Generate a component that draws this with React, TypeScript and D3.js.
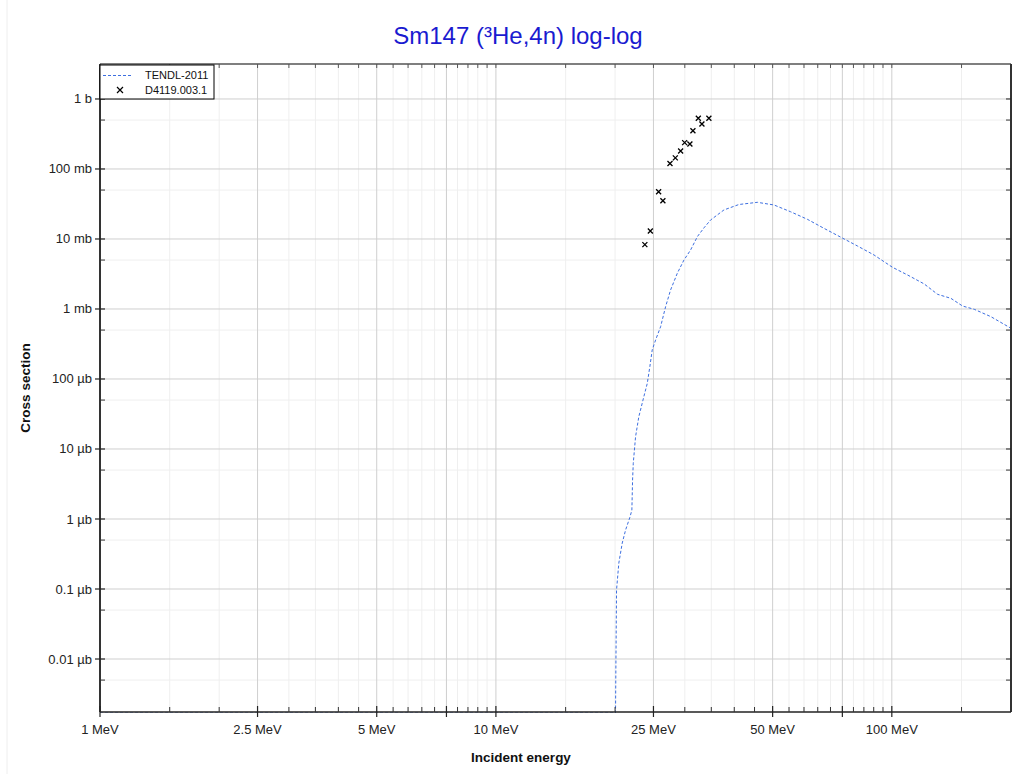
import React from "react";
import * as d3 from "d3";

// TENDL-2011 evaluated curve (energy in MeV, cross section in barns)
const tendlE = [1, 20, 20.05, 20.1, 20.17, 20.44, 20.85, 21.26, 21.8, 22.05, 22.14, 22.23, 22.53, 22.96, 23.64, 24.12, 24.48, 24.82, 25.31, 26.06, 26.83, 27.62, 28.72, 29.85, 31.03, 32.27, 33.53, 34.86, 37.67, 41.11, 45.75, 50.4, 55.5, 61.2, 67.4, 75.3, 81.9, 90.2, 100.4, 109.6, 120.7, 130.5, 141, 151, 161.5, 178, 200];
const tendlXS = [0, 0, 1e-9, 1e-8, 9.7e-8, 2.35e-7, 4.54e-7, 6.97e-7, 1.06e-6, 1.34e-6, 3.6e-6, 6.25e-6, 1.5e-5, 2.89e-5, 5.59e-5, 8.69e-5, 1.5e-4, 2.6e-4, 3.6e-4, 5.58e-4, 1.08e-3, 1.87e-3, 3.24e-3, 5.0e-3, 6.97e-3, 1.08e-2, 1.44e-2, 1.87e-2, 2.6e-2, 3.11e-2, 3.34e-2, 3.06e-2, 2.45e-2, 1.91e-2, 1.42e-2, 1.02e-2, 7.94e-3, 5.9e-3, 3.94e-3, 3.06e-3, 2.28e-3, 1.62e-3, 1.42e-3, 1.1e-3, 9.9e-4, 7.76e-4, 5.3e-4];

// EXFOR D4119.003.1 experimental points
const expE = [23.78, 24.55, 25.76, 26.41, 27.52, 28.39, 29.28, 29.97, 30.9, 31.45, 32.45, 33.14, 34.51];
const expXS = [0.0083, 0.013, 0.0474, 0.0352, 0.12, 0.144, 0.181, 0.238, 0.228, 0.352, 0.53, 0.44, 0.53];

// Axis ticks
const xLabeledTicks = [1, 2.5, 5, 10, 25, 50, 100];
const xCrossTicks = [1, 2.5, 5, 7.5, 10, 25, 50, 75, 100];
const xMinorTicks = [
  1.5, 2, 3, 3.5, 4, 4.5, 5.5, 6, 6.5, 7, 8, 8.5, 9, 9.5,
  15, 20, 30, 35, 40, 45, 55, 60, 65, 70, 80, 85, 90, 95, 150,
];
const yMajorTicks = [1, 1e-1, 1e-2, 1e-3, 1e-4, 1e-5, 1e-6, 1e-7, 1e-8];
const yMinorTicks = [5e-1, 5e-2, 5e-3, 5e-4, 5e-5, 5e-6, 5e-7, 5e-8, 5e-9];

const title = "Sm147 (³He,4n) log-log";
const xTitle = "Incident energy";
const yTitle = "Cross section";
const legendNames = ["TENDL-2011", "D4119.003.1"];

const W = 1022;
const H = 774;
const L = 100, R = 1011, T = 64, B = 712;

function fmtNum(v: number) {
  return String(+v.toPrecision(6));
}
function fmtBarn(v: number) {
  if (v >= 1) return `${fmtNum(v)} b`;
  if (v >= 1e-3) return `${fmtNum(v * 1e3)} mb`;
  return `${fmtNum(v * 1e6)} µb`;
}

export default function App() {
  const x = d3.scaleLog().domain([1, 200]).range([L, R]);
  const y = d3.scaleLog().domain([1.75e-9, 3.16]).range([B, T]);
  const yv = (v: number) => (v <= 0 ? B + 1 : Math.min(y(v), B + 1));

  const curve = tendlE.map((e, i) => [x(e), yv(tendlXS[i])] as [number, number]);
  const line = d3.line()(curve) || "";

  const font = "Arial, 'Liberation Sans', sans-serif";
  const blue = "#3d6fe0";

  return (
    <svg width={W} height={H} style={{ position: "absolute", left: 0, top: 0, background: "#fff" }} fontFamily={font}>
      <defs>
        <clipPath id="plotclip">
          <rect x={L} y={T} width={R - L} height={B - T + 1} />
        </clipPath>
      </defs>
      <line x1={7} x2={7} y1={0} y2={H} stroke="#eeeeee" />
      {/* grid */}
      {xMinorTicks.map((t) => (
        <line key={"gxm" + t} x1={x(t)} x2={x(t)} y1={T} y2={B} stroke="#efefef" />
      ))}
      {yMinorTicks.map((t) => (
        <line key={"gym" + t} x1={L} x2={R} y1={y(t)} y2={y(t)} stroke="#efefef" />
      ))}
      {xCrossTicks.map((t) => (
        <line key={"gx" + t} x1={x(t)} x2={x(t)} y1={T} y2={B} stroke="#cfcfcf" />
      ))}
      {yMajorTicks.map((t) => (
        <line key={"gy" + t} x1={L} x2={R} y1={y(t)} y2={y(t)} stroke="#cfcfcf" />
      ))}

      {/* data */}
      <g clipPath="url(#plotclip)">
        <path d={line} fill="none" stroke={blue} strokeWidth={1} strokeDasharray="3,2" />
      </g>
      {expE.map((e, i) => {
        const cx = x(e), cy = y(expXS[i]);
        const s = 2.5;
        return (
          <path key={"p" + i} d={`M${cx - s},${cy - s}L${cx + s},${cy + s}M${cx - s},${cy + s}L${cx + s},${cy - s}`} stroke="#000" strokeWidth={1.3} />
        );
      })}

      {/* frame */}
      <line x1={L} x2={R} y1={T} y2={T} stroke="#000" strokeWidth={1.2} />
      <line x1={R} x2={R} y1={T} y2={B} stroke="#333" strokeWidth={2} />
      <line x1={L} x2={R} y1={B} y2={B} stroke="#222" strokeWidth={1.5} />
      <line x1={L} x2={L} y1={T} y2={B} stroke="#333" strokeWidth={2} />

      {/* x ticks */}
      {xMinorTicks.map((t) => (
        <g key={"xt" + t}>
          <line x1={x(t)} x2={x(t)} y1={B} y2={B - 5} stroke="#333" />
          <line x1={x(t)} x2={x(t)} y1={T} y2={T + 4} stroke="#555" />
        </g>
      ))}
      {xCrossTicks.map((t) => (
        <g key={"xc" + t}>
          <line x1={x(t)} x2={x(t)} y1={B - 6} y2={B + 5} stroke="#222" strokeWidth={1.2} />
          <line x1={x(t)} x2={x(t)} y1={T} y2={T + 4} stroke="#555" />
        </g>
      ))}
      {xLabeledTicks.map((t) => (
        <text key={"xl" + t} x={x(t)} y={B + 22} textAnchor="middle" fontSize={13} fill="#222">
          {`${t} MeV`}
        </text>
      ))}

      {/* y ticks */}
      {yMinorTicks.map((t) => (
        <g key={"yt" + t}>
          <line x1={L} x2={L + 5} y1={y(t)} y2={y(t)} stroke="#333" />
          <line x1={R} x2={R - 5} y1={y(t)} y2={y(t)} stroke="#333" />
        </g>
      ))}
      {yMajorTicks.map((t) => (
        <g key={"yc" + t}>
          <line x1={L - 5} x2={L + 5} y1={y(t)} y2={y(t)} stroke="#222" strokeWidth={1.2} />
          <line x1={R} x2={R - 5} y1={y(t)} y2={y(t)} stroke="#222" />
          <text x={L - 8} y={y(t) + 4.5} textAnchor="end" fontSize={13} fill="#222">
            {fmtBarn(t)}
          </text>
        </g>
      ))}

      {/* titles */}
      <text x={518} y={44} textAnchor="middle" fontSize={24} fill="#1a1ad0">{title}</text>
      <text x={521} y={762} textAnchor="middle" fontSize={13.5} fontWeight="bold" fill="#111">{xTitle}</text>
      <text transform={`translate(30,${(T + B) / 2}) rotate(-90)`} textAnchor="middle" fontSize={13.5} fontWeight="bold" fill="#111">{yTitle}</text>

      {/* legend */}
      <rect x={100} y={65} width={114} height={34} fill="#fff" stroke="#000" strokeWidth={1} />
      <line x1={103} x2={133} y1={75.5} y2={75.5} stroke={blue} strokeWidth={1} strokeDasharray="3,2" />
      <text x={145} y={79} fontSize={11} fill="#111">{legendNames[0]}</text>
      <path d="M117,87L123,93M117,93L123,87" stroke="#000" strokeWidth={1.2} />
      <text x={145} y={94} fontSize={11} fill="#111">{legendNames[1]}</text>
    </svg>
  );
}
